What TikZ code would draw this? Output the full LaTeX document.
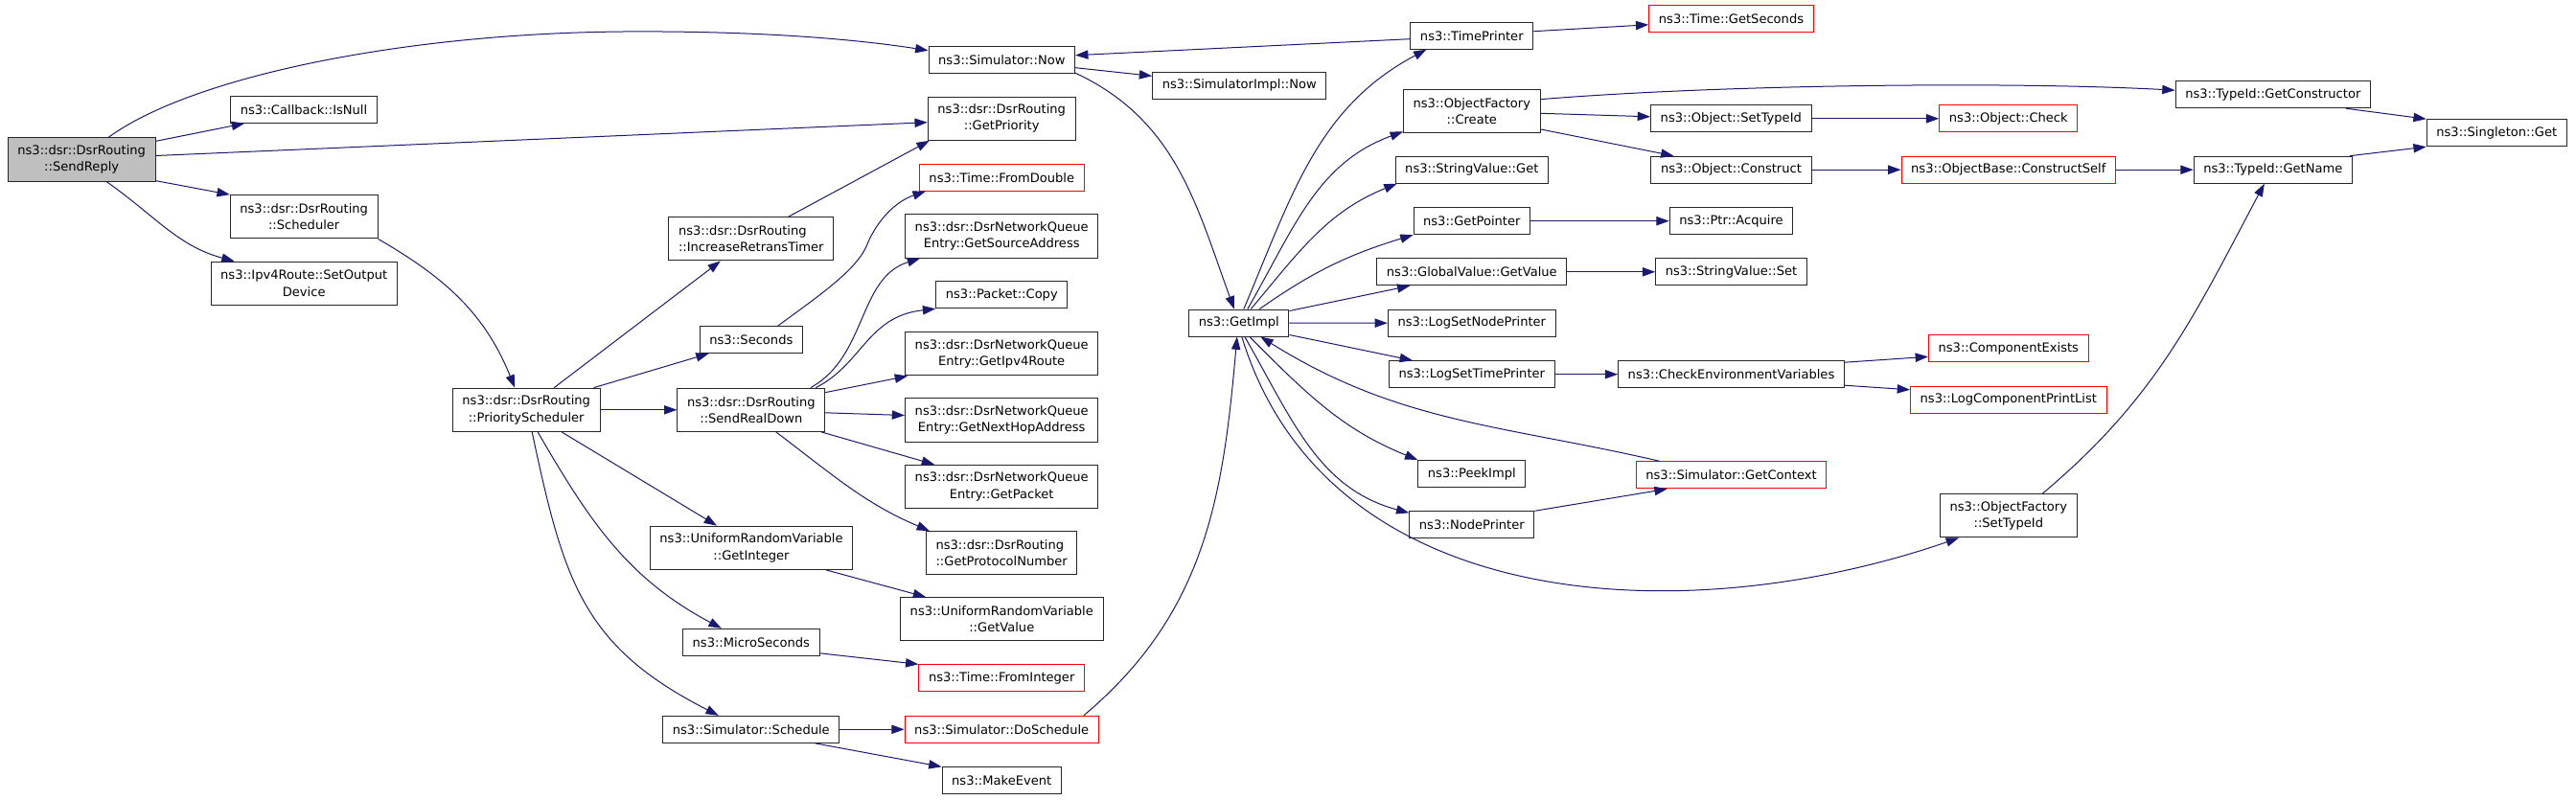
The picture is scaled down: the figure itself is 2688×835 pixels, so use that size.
\documentclass[tikz,border=0pt]{standalone}
\usepackage{fontspec}
\setmainfont{DejaVu Sans}
\usetikzlibrary{arrows.meta,calc,positioning}
\definecolor{edgeblue}{HTML}{191970}
\colorlet{boxline}{black!85}
\colorlet{rootfill}{black!25}
\newcommand{\boxfont}{\fontsize{9.8}{13}\selectfont}
\tikzset{
    fnsty/.style={draw=boxline,fill=white,rectangle,line width=0.75pt,font=\boxfont,inner xsep=7.6pt,inner ysep=0pt,minimum height=21pt,anchor=center},
    twosty/.style={fnsty,align=center,minimum height=34pt},
    lftsty/.style={twosty,align=left},
    redsty/.style={fnsty,draw=red},
    rootsty/.style={twosty,fill=rootfill},
    callsty/.style={draw=edgeblue,line width=0.75pt,->},
}

\begin{document}
\begin{tikzpicture}[x=0.75pt,y=-0.75pt,>={Triangle[length=10pt,width=7pt]}]
\useasboundingbox (0,0) rectangle (2688,835);

% first ranks
\node[rootsty] (sendreply) at (85.2,166.5) {ns3::dsr::DsrRouting\\::SendReply};
\node[fnsty] (isnull) at (317,114.3) {ns3::Callback::IsNull};
\node[twosty] (scheduler) at (317.2,226.3) {ns3::dsr::DsrRouting\\::Scheduler};
\node[twosty] (setoutdev) at (317.2,295.8) {ns3::Ipv4Route::SetOutput\\Device};
\node[twosty] (prisched) at (549.2,427.8) {ns3::dsr::DsrRouting\\::PriorityScheduler};
\node[lftsty] (incretrans) at (783.8,249.3) {ns3::dsr::DsrRouting\\::IncreaseRetransTimer};
\node[fnsty] (seconds) at (783.8,354.5) {ns3::Seconds};
\node[twosty] (sendrealdown) at (783.8,427.8) {ns3::dsr::DsrRouting\\::SendRealDown};
\node[twosty] (getinteger) at (784,571.8) {ns3::UniformRandomVariable\\::GetInteger};
\node[fnsty] (microsec) at (783.8,670.3) {ns3::MicroSeconds};
\node[fnsty] (schedule) at (783.8,761.3) {ns3::Simulator::Schedule};

% middle column
\node[fnsty] (simnow) at (1045.3,62.7) {ns3::Simulator::Now};
\node[twosty] (getpriority) at (1045.2,123.7) {ns3::dsr::DsrRouting\\::GetPriority};
\node[redsty] (fromdouble) at (1045.3,185.2) {ns3::Time::FromDouble};
\node[twosty] (getsrcaddr) at (1045.2,246.5) {ns3::dsr::DsrNetworkQueue\\Entry::GetSourceAddress};
\node[fnsty] (pktcopy) at (1045.3,307.8) {ns3::Packet::Copy};
\node[twosty] (getipv4route) at (1045.2,369.3) {ns3::dsr::DsrNetworkQueue\\Entry::GetIpv4Route};
\node[twosty] (getnexthop) at (1045.2,438.5) {ns3::dsr::DsrNetworkQueue\\Entry::GetNextHopAddress};
\node[twosty] (getpacket) at (1045.2,508) {ns3::dsr::DsrNetworkQueue\\Entry::GetPacket};
\node[lftsty] (getprotonum) at (1045.2,577.3) {ns3::dsr::DsrRouting\\::GetProtocolNumber};
\node[twosty] (getvalue) at (1045.3,646.3) {ns3::UniformRandomVariable\\::GetValue};
\node[redsty] (frominteger) at (1045.2,707.8) {ns3::Time::FromInteger};
\node[redsty] (doschedule) at (1045.2,761.3) {ns3::Simulator::DoSchedule};
\node[fnsty] (makeevent) at (1045.2,814.8) {ns3::MakeEvent};

\node[fnsty] (simimplnow) at (1293.3,89.3) {ns3::SimulatorImpl::Now};
\node[fnsty] (getimpl) at (1292.8,337) {ns3::GetImpl};

% right part
\node[fnsty] (timeprinter) at (1535.8,37.2) {ns3::TimePrinter};
\node[twosty] (ofcreate) at (1535.8,115.8) {ns3::ObjectFactory\\::Create};
\node[fnsty] (strget) at (1535.8,177.2) {ns3::StringValue::Get};
\node[fnsty] (getpointer) at (1535.8,230.7) {ns3::GetPointer};
\node[fnsty] (gvgetvalue) at (1535.8,283.8) {ns3::GlobalValue::GetValue};
\node[fnsty] (lognodeprinter) at (1535.8,337.2) {ns3::LogSetNodePrinter};
\node[fnsty] (logtimeprinter) at (1535.8,390.7) {ns3::LogSetTimePrinter};
\node[fnsty] (peekimpl) at (1535.8,494.5) {ns3::PeekImpl};
\node[fnsty] (nodeprinter) at (1535.8,547.8) {ns3::NodePrinter};

\node[redsty] (getseconds) at (1806.5,19.8) {ns3::Time::GetSeconds};
\node[fnsty] (objsettypeid) at (1806.3,123.8) {ns3::Object::SetTypeId};
\node[fnsty] (objconstruct) at (1806.5,177.2) {ns3::Object::Construct};
\node[fnsty] (ptracquire) at (1806.5,230.7) {ns3::Ptr::Acquire};
\node[fnsty] (strset) at (1806.5,283.8) {ns3::StringValue::Set};
\node[fnsty] (checkenv) at (1806.5,390.7) {ns3::CheckEnvironmentVariables};
\node[redsty] (getcontext) at (1806.5,495.8) {ns3::Simulator::GetContext};

\node[redsty] (objcheck) at (2095.8,123.8) {ns3::Object::Check};
\node[redsty] (constructself) at (2095.8,177.2) {ns3::ObjectBase::ConstructSelf};
\node[redsty] (compexists) at (2095.8,363.8) {ns3::ComponentExists};
\node[redsty] (logcompprint) at (2095.8,417.3) {ns3::LogComponentPrintList};
\node[twosty] (ofsettypeid) at (2095.8,538.3) {ns3::ObjectFactory\\::SetTypeId};

\node[fnsty] (getconstructor) at (2371.8,98.7) {ns3::TypeId::GetConstructor};
\node[fnsty] (getname) at (2371.8,177.2) {ns3::TypeId::GetName};
\node[fnsty] (singletonget) at (2605.3,138.7) {ns3::Singleton::Get};

% calls of SendReply
\draw[callsty] ($(sendreply.north)+(28,0)$) .. controls (200,80) and (420,35) .. (650,33) .. controls (800,32) and (900,42) .. ($(simnow.west)+(0,-10)$);
\draw[callsty] ($(sendreply.north east)+(0,4)$) -- ($(isnull.south west)+(15,0)$);
\draw[callsty] ($(sendreply.east)+(0,-4)$) -- ($(getpriority.west)+(0,4)$);
\draw[callsty] ($(sendreply.south east)+(0,-1)$) -- (scheduler.north west);
\draw[callsty] ($(sendreply.south)+(26,0)$) to[out=-35,in=165] ($(setoutdev.north west)+(25,0)$);
\draw[callsty] (scheduler.south east) to[out=-30,in=112] ($(prisched.north)+(-12,0)$);

% calls of PriorityScheduler
\draw[callsty] ($(prisched.north)+(29,0)$) -- ($(incretrans.south)+(-32,0)$);
\draw[callsty] ($(prisched.north east)+(-7,0)$) -- ($(seconds.south west)+(10,0)$);
\draw[callsty] (prisched.east) -- (sendrealdown.west);
\draw[callsty] ($(prisched.south)+(37,0)$) -- ($(getinteger.north)+(-36,0)$);
\draw[callsty] ($(prisched.south)+(12,0)$) to[out=-60,in=152] ($(microsec.north)+(-31,0)$);
\draw[callsty] ($(prisched.south)+(6,0)$) to[out=-78,in=153,looseness=1.15] ($(schedule.north)+(-34,0)$);

\draw[callsty] ($(incretrans.north)+(39,0)$) -- ($(getpriority.south west)+(2,0)$);
\draw[callsty] ($(seconds.north)+(28,0)$) .. controls (860,305) and (895,280) .. (905,255) .. controls (915,230) and (935,210) .. ($(fromdouble.south west)+(7,0)$);

% calls of SendRealDown
\draw[callsty] ($(sendrealdown.north)+(62,0)$) .. controls (905,372) and (895,290) .. ($(getsrcaddr.south west)+(16,0)$);
\draw[callsty] ($(sendrealdown.north east)+(-10,0)$) .. controls (900,380) and (905,330) .. (pktcopy.south west);
\draw[callsty] ($(sendrealdown.north east)+(0,5)$) -- ($(getipv4route.south west)+(3,0)$);
\draw[callsty] ($(sendrealdown.east)+(0,3)$) -- ($(getnexthop.west)+(0,-5)$);
\draw[callsty] ($(sendrealdown.south east)+(-4,0)$) -- ($(getpacket.north west)+(31,0)$);
\draw[callsty] ($(sendrealdown.south)+(26,0)$) to[out=-37,in=157] ($(getprotonum.north west)+(4,0)$);

\draw[callsty] ($(getinteger.south east)+(-28,0)$) -- ($(getvalue.north west)+(27,0)$);
\draw[callsty] ($(microsec.south east)+(0,-3)$) -- (frominteger.north west);
\draw[callsty] (schedule.east) -- (doschedule.west);
\draw[callsty] ($(schedule.south east)+(-26,0)$) -- (makeevent.north west);

% Simulator::Now and GetImpl
\draw[callsty] ($(simnow.east)+(0,8)$) -- ($(simimplnow.west)+(0,-10)$);
\draw[callsty] ($(simnow.south east)+(0,-1)$) to[out=-25,in=110] ($(getimpl.north)+(-5,0)$);
\draw[callsty] ($(doschedule.north east)+(-16,0)$) to[out=40,in=-95] ($(getimpl.south)+(-2,0)$);
\draw[callsty] ($(timeprinter.west)+(0,3.5)$) -- ($(simnow.east)+(0,-5)$);
\draw[callsty] ($(timeprinter.east)+(0,-4.5)$) -- ($(getseconds.west)+(0,6)$);

\draw[callsty] ($(getimpl.north)+(5,0)$) to[out=67,in=-152] ($(timeprinter.south west)+(17,0)$);
\draw[callsty] ($(getimpl.north)+(9,0)$) to[out=60,in=-160] ($(ofcreate.south west)+(0,-1.5)$);
\draw[callsty] ($(getimpl.north)+(12.5,0)$) to[out=50,in=-158] ($(strget.south west)+(2,0)$);
\draw[callsty] ($(getimpl.north)+(21.5,0)$) to[out=35,in=-163] (getpointer.south west);
\draw[callsty] ($(getimpl.north east)+(0,2)$) -- ($(gvgetvalue.south west)+(35,0)$);
\draw[callsty] (getimpl.east) -- (lognodeprinter.west);
\draw[callsty] ($(getimpl.south east)+(0,-2)$) -- ($(logtimeprinter.north west)+(25,0)$);
\draw[callsty] ($(getimpl.south)+(11,0)$) to[out=-45,in=158] (peekimpl.north west);
\draw[callsty] ($(getimpl.south)+(6,0)$) to[out=-60,in=165] ($(nodeprinter.north west)+(0,2)$);
\draw[callsty] ($(getimpl.south)+(3,0)$) to[out=-73,in=-161] ($(ofsettypeid.south west)+(20,0)$);
\draw[callsty] ($(getcontext.north west)+(25,0)$) to[out=167,in=-32] ($(getimpl.south)+(22.5,0)$);
\draw[callsty] (nodeprinter.north east) -- ($(getcontext.south west)+(33,0)$);

% object factory side
\draw[callsty] ($(ofcreate.north east)+(0,11)$) .. controls (1800,88) and (2100,85) .. ($(getconstructor.west)+(0,-4.5)$);
\draw[callsty] ($(ofcreate.east)+(0,2.5)$) -- ($(objsettypeid.west)+(0,-2)$);
\draw[callsty] ($(ofcreate.south east)+(0,-4)$) -- ($(objconstruct.north west)+(24,0)$);
\draw[callsty] (objsettypeid.east) -- (objcheck.west);
\draw[callsty] (objconstruct.east) -- (constructself.west);
\draw[callsty] (constructself.east) -- (getname.west);
\draw[callsty] (getpointer.east) -- (ptracquire.west);
\draw[callsty] (gvgetvalue.east) -- (strset.west);
\draw[callsty] (logtimeprinter.east) -- (checkenv.west);
\draw[callsty] ($(checkenv.north east)+(0,2)$) -- ($(compexists.west)+(0,8.5)$);
\draw[callsty] ($(checkenv.south east)+(0,-3)$) -- ($(logcompprint.west)+(0,-10.5)$);
\draw[callsty] ($(getconstructor.south east)+(-26,0)$) -- (singletonget.north west);
\draw[callsty] ($(getname.north east)+(-3,0)$) -- (singletonget.south west);
\draw[callsty] ($(ofsettypeid.north)+(35.5,0)$) to[out=40,in=-118] ($(getname.south)+(-9,0)$);
\end{tikzpicture}
\end{document}
